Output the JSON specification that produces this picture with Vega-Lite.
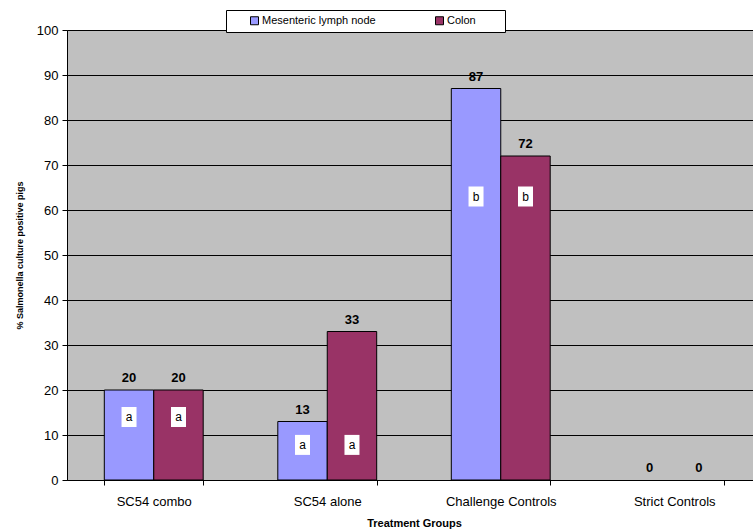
{
  "$schema": "https://vega.github.io/schema/vega-lite/v6.json",
  "width": 694,
  "height": 450,
  "autosize": "none",
  "padding": {"left": 67, "top": 30, "right": 0, "bottom": 51},
  "background": "white",
  "config": {
    "font": "Liberation Sans",
    "view": {"fill": "#C0C0C0", "stroke": "#808080", "strokeWidth": 1},
    "axis": {"labelFont": "Liberation Sans", "titleFont": "Liberation Sans", "labelColor": "black", "titleColor": "black", "domainColor": "black", "tickColor": "black"}
  },
  "data": {
    "values": [
      {"group": "SC54 combo", "site": "Mesenteric lymph node", "value": 20, "letter": "a", "letterY": 14},
      {"group": "SC54 combo", "site": "Colon", "value": 20, "letter": "a", "letterY": 14},
      {"group": "SC54 alone", "site": "Mesenteric lymph node", "value": 13, "letter": "a", "letterY": 7.8},
      {"group": "SC54 alone", "site": "Colon", "value": 33, "letter": "a", "letterY": 7.8},
      {"group": "Challenge Controls", "site": "Mesenteric lymph node", "value": 87, "letter": "b", "letterY": 63},
      {"group": "Challenge Controls", "site": "Colon", "value": 72, "letter": "b", "letterY": 63},
      {"group": "Strict Controls", "site": "Mesenteric lymph node", "value": 0, "letter": null, "letterY": null},
      {"group": "Strict Controls", "site": "Colon", "value": 0, "letter": null, "letterY": null}
    ]
  },
  "encoding": {
    "x": {
      "field": "group", "type": "nominal", "sort": null,
      "scale": {"paddingInner": 0.43, "paddingOuter": 0.215},
      "axis": {
        "title": "Treatment Groups", "titleFontSize": 11, "titleFontWeight": "bold", "titlePadding": 9,
        "labelFontSize": 13, "labelAngle": 0, "labelPadding": 10, "tickBand": "extent", "tickSize": 5,
        "domainColor": "black", "grid": false
      }
    },
    "xOffset": {"field": "site", "type": "nominal", "sort": ["Mesenteric lymph node", "Colon"], "scale": {"paddingInner": 0, "paddingOuter": 0}}
  },
  "layer": [
    {
      "mark": {"type": "bar", "stroke": "black"},
      "encoding": {
        "y": {
          "field": "value", "type": "quantitative",
          "scale": {"domain": [0, 100], "nice": false},
          "axis": {
            "title": "% Salmonella culture positive pigs", "titleFontSize": 9, "titleFontWeight": "bold", "titlePadding": 12,
            "values": [0, 10, 20, 30, 40, 50, 60, 70, 80, 90, 100], "labelFontSize": 13, "labelPadding": 4, "tickSize": 5,
            "grid": true, "gridColor": "black", "gridWidth": 1, "domainColor": "black"
          }
        },
        "strokeWidth": {"condition": {"test": "datum.value == 0", "value": 0}, "value": 1},
        "color": {
          "field": "site", "type": "nominal",
          "scale": {"domain": ["Mesenteric lymph node", "Colon"], "range": ["#9999FF", "#993366"]},
          "legend": {
            "title": " ", "titleOrient": "left", "titlePadding": 18,
            "orient": "none", "legendX": 159, "legendY": -20, "direction": "horizontal",
            "fillColor": "white", "strokeColor": "black", "padding": 5,
            "symbolType": "square", "symbolSize": 64, "symbolStrokeColor": "black", "symbolStrokeWidth": 1,
            "labelFontSize": 11, "labelFont": "Liberation Sans", "labelColor": "black", "labelOffset": 2,
            "columnPadding": 57, "labelExpr": "datum.label == 'Colon' ? datum.label + '\u2800\u2800\u2800' : datum.label"
          }
        }
      }
    },
    {
      "mark": {"type": "text", "baseline": "bottom", "dy": -5, "fontWeight": "bold", "fontSize": 13, "color": "black"},
      "encoding": {
        "y": {"field": "value", "type": "quantitative"},
        "text": {"field": "value", "type": "quantitative"}
      }
    },
    {
      "transform": [{"filter": "datum.letter != null"}],
      "mark": {"type": "point", "shape": "M-0.75,-1H0.75V1H-0.75Z", "filled": true, "fill": "white", "opacity": 1, "strokeWidth": 0, "size": 400},
      "encoding": {
        "y": {"field": "letterY", "type": "quantitative"}
      }
    },
    {
      "transform": [{"filter": "datum.letter != null"}],
      "mark": {"type": "text", "baseline": "middle", "fontSize": 12, "color": "black"},
      "encoding": {
        "y": {"field": "letterY", "type": "quantitative"},
        "text": {"field": "letter"}
      }
    }
  ]
}
